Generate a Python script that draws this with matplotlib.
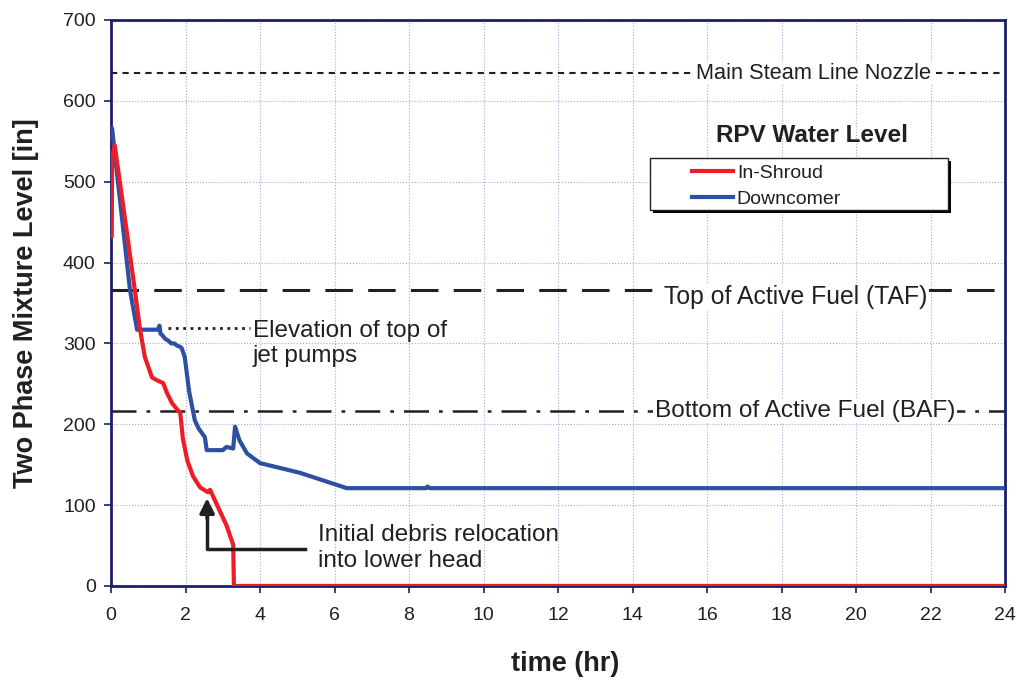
import matplotlib.pyplot as plt
from matplotlib.patches import Rectangle
import numpy as np

plt.rcParams['font.family'] = ['Liberation Sans', 'DejaVu Sans']

# In-Shroud water level (red)
shroud_t = [0, 0.02, 0.03, 0.1, 0.4, 0.64, 0.78, 0.91, 1.1, 1.25, 1.4, 1.5, 1.64, 1.8,
            1.86, 1.93, 2.05, 2.2, 2.39, 2.6, 2.66, 2.9, 3.1, 3.28, 3.3, 24]
shroud_y = [432, 432, 530, 545, 446, 366, 317, 283, 258, 254, 251, 239, 226, 217,
            214, 182, 155, 136, 122, 116, 119, 95, 75, 51, 0, 0]

# Downcomer water level (blue)
down_t = [0, 0.03, 0.1, 0.24, 0.51, 0.7, 1.26, 1.3, 1.33, 1.38, 1.45, 1.55, 1.62, 1.7,
          1.78, 1.85, 1.9, 1.98, 2.1, 2.25, 2.35, 2.52, 2.57, 3.0, 3.1, 3.28, 3.33,
          3.45, 3.65, 4.0, 5.07, 6.33, 8.45, 8.5, 8.55, 24]
down_y = [560, 566, 535, 478, 366, 317, 317, 322, 312, 310, 306, 303, 300, 300,
          297, 296, 294, 283, 240, 205, 195, 184, 168, 168, 172, 170, 197,
          180, 164, 152, 140, 121, 121, 123, 121, 121]

# reference elevations
msl_nozzle = 634
taf = 366
baf = 217
jet_pumps = 319

navy = '#1b1f6b'
red = '#ee1c25'
blue = '#2e50a2'
ink = '#231f20'

fig = plt.figure(figsize=(10.24, 6.84), dpi=100)
ax = fig.add_axes([111 / 1024, 1 - 586 / 684, 894 / 1024, 566 / 684])

ax.set_xlim(0, 24)
ax.set_ylim(0, 700)
ax.set_xticks(np.arange(0, 25, 2))
ax.set_yticks(np.arange(0, 701, 100))
ax.grid(True, color='#a8a8d8', linestyle=':', linewidth=0.8)
ax.set_axisbelow(True)
for s in ax.spines.values():
    s.set_color(navy)
    s.set_linewidth(2)
ax.tick_params(colors=navy, labelcolor=ink, labelsize=14, width=1.2, length=5)
ax.tick_params(axis='x', pad=10)
ax.tick_params(axis='y', pad=6)

# reference lines
ax.axhline(msl_nozzle, color=ink, lw=1.5, dashes=(3, 2.5))
ax.axhline(taf, color=ink, lw=2.2, dashes=(9, 5))
ax.axhline(baf, color=ink, lw=1.8, dashes=(10, 4, 1.5, 4))

bb = dict(facecolor='white', edgecolor='none', pad=1)
ax.text(18.87, msl_nozzle, 'Main Steam Line Nozzle',
        ha='center', va='center', fontsize=15.7, color=ink, bbox=bb)
ax.text(18.39, taf - 9, 'Top of Active Fuel (TAF)',
        ha='center', va='center', fontsize=17.8, color=ink, bbox=bb)
ax.text(18.63, baf, 'Bottom of Active Fuel (BAF)',
        ha='center', va='center', fontsize=17.6, color=ink, bbox=bb)

# curves
ax.plot(down_t, down_y, color=blue, lw=3, label='Downcomer', zorder=4)
ax.plot(shroud_t, shroud_y, color=red, lw=3, label='In-Shroud', zorder=5)

# jet pump annotation
ax.plot([1.53, 3.73], [jet_pumps, jet_pumps], color=ink, lw=2, linestyle=':')
ax.text(3.8, 300, 'Elevation of top of\njet pumps', ha='left', va='center',
        fontsize=17.5, color=ink, linespacing=1.22)

# debris relocation annotation
ax.plot([5.21, 2.58, 2.58], [46, 46, 95], color=ink, lw=2.5, zorder=6)
ax.annotate('', xy=(2.58, 112), xytext=(2.58, 80),
            arrowprops=dict(arrowstyle='-|>', color=ink, lw=2.5, mutation_scale=22),
            zorder=6)
ax.text(5.56, 47, 'Initial debris relocation\ninto lower head', ha='left', va='center',
        fontsize=17.5, color=ink, linespacing=1.25)

# legend box with hard shadow
ax.add_patch(Rectangle((0.6029 + 0.0034, 0.6643 - 0.0053), 0.3333, 0.0919,
                       transform=ax.transAxes, facecolor='black', edgecolor='none', zorder=7))
ax.add_patch(Rectangle((0.6029, 0.6643), 0.3333, 0.0919, transform=ax.transAxes,
                       facecolor='white', edgecolor=ink, lw=1, zorder=8))
h, l = ax.get_legend_handles_labels()
leg = ax.legend(h[::-1], l[::-1], loc='upper left', bbox_to_anchor=(0.65, 0.745),
                fontsize=14, frameon=False, handlelength=2.1, handletextpad=0.2,
                borderpad=0, labelspacing=0.45, borderaxespad=0)
leg.set_zorder(9)
for t in leg.get_texts():
    t.set_color(ink)
ax.text(18.81, (586 - 136) / 566 * 700, 'RPV Water Level', ha='center',
        va='center', fontsize=17.5, fontweight='bold', color=ink)

ax.set_xlabel('time (hr)', fontsize=19.5, fontweight='bold', color=ink)
ax.set_ylabel('Two Phase Mixture Level [in]', fontsize=19.5, fontweight='bold', color=ink)
ax.xaxis.set_label_coords(0.508, -0.115)
ax.yaxis.set_label_coords(-0.08, 0.5)

fig.savefig('out.png', dpi=100)
